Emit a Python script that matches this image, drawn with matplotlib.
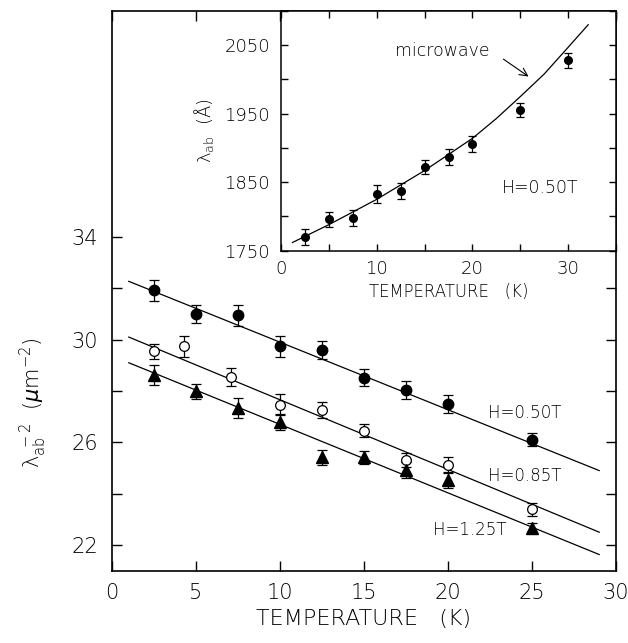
import matplotlib
matplotlib.use("Agg")
import matplotlib.pyplot as plt

# ---- main panel data ----
T50 = [2.5, 5, 7.5, 10, 12.5, 15, 17.5, 20, 25]
L50 = [31.92, 31.01, 30.95, 29.74, 29.60, 28.51, 28.05, 27.50, 26.11]
E50 = [0.42, 0.35, 0.40, 0.42, 0.36, 0.33, 0.35, 0.35, 0.27]

T85 = [2.5, 4.3, 7.1, 10, 12.5, 15, 17.5, 20, 25]
L85 = [29.55, 29.74, 28.54, 27.47, 27.27, 26.46, 25.31, 25.12, 23.40]
E85 = [0.29, 0.42, 0.36, 0.40, 0.31, 0.27, 0.26, 0.29, 0.25]

T125 = [2.5, 5, 7.5, 10, 12.5, 15, 17.5, 20, 25]
L125 = [28.64, 27.98, 27.33, 26.78, 25.42, 25.42, 24.92, 24.53, 22.65]
E125 = [0.39, 0.31, 0.39, 0.31, 0.29, 0.26, 0.32, 0.29, 0.19]

fit_T = [1.0, 29.0]
fit50 = [32.27, 24.90]
fit85 = [30.10, 22.50]
fit125 = [29.10, 21.63]

labels_main = ["H=0.50T", "H=0.85T", "H=1.25T"]

# ---- inset data ----
Tin = [2.5, 5, 7.5, 10, 12.5, 15, 17.5, 20, 25, 30]
Lin = [1770, 1796, 1798, 1833, 1837, 1872, 1887, 1906, 1955, 2028]
Ein = [12, 11, 12, 13, 12, 10, 12, 12, 10, 11]

Tmw = [1.2, 5, 10, 15, 20, 22.5, 25, 27.5, 30, 32.1]
Lmw = [1762, 1788, 1825, 1867, 1914, 1943, 1975, 2008, 2047, 2080]

plt.rcParams['font.family'] = ['DejaVu Sans']
plt.rcParams['font.weight'] = 'light'
plt.rcParams['axes.labelweight'] = 'light'
plt.rcParams['mathtext.fontset'] = 'dejavusans'

fig = plt.figure(figsize=(6.28, 6.43), dpi=100)

# main axes
ax = fig.add_axes([112/628, 1-570.7/643, (616-112)/628, (570.7-11)/643])
ax.set_xlim(0, 30)
ax.set_ylim(21, 42.8)

eb = dict(ecolor='black', elinewidth=0.9, capsize=3.8, capthick=0.9, linestyle='none')
ax.errorbar(T50, L50, yerr=E50, marker='o', ms=7.5, mfc='black', mec='black', **eb, zorder=3)
ax.errorbar(T85, L85, yerr=E85, marker='o', ms=7, mfc='white', mec='black', mew=0.9, **eb, zorder=3)
ax.errorbar(T125, L125, yerr=E125, marker='^', ms=8, mfc='black', mec='black', **eb, zorder=3)
for f in (fit50, fit85, fit125):
    ax.plot(fit_T, f, color='black', lw=0.9, zorder=2)

ax.text(22.4, 27.13, labels_main[0], fontsize=12, ha='left', va='center')
ax.text(22.4, 24.67, labels_main[1], fontsize=12, ha='left', va='center')
ax.text(19.1, 22.57, labels_main[2], fontsize=12, ha='left', va='center')

ax.set_xticks(range(0, 31, 5))
yt = list(range(22, 35, 2))
ax.set_yticks(yt)
ax.set_yticklabels([str(v) if v % 4 == 2 else '' for v in yt])
ax.tick_params(direction='in', length=7, width=1, top=True, right=True,
               labelsize=15)
ax.tick_params(axis='x', pad=9)
ax.tick_params(axis='y', pad=10)
for s in ax.spines.values():
    s.set_linewidth(1.2)

ax.set_xlabel('TEMPERATURE   (K)', fontsize=16, labelpad=4)
fig.text(33/628, 1-403/643, r'λ$_{\rm ab}^{\ -2}$  ($\mu$m$^{-2}$)', rotation=90,
         ha='center', va='center', fontsize=15)

# inset axes
axi = fig.add_axes([281/628, 1-250.7/643, (616-281)/628, (250.7-11)/643])
axi.set_facecolor('white')
axi.set_xlim(0, 35)
axi.set_ylim(1750, 2100)
axi.errorbar(Tin, Lin, yerr=Ein, marker='o', ms=5.5, mfc='black', mec='black',
             ecolor='black', elinewidth=0.9, capsize=3, capthick=0.9, linestyle='none', zorder=3)
axi.plot(Tmw, Lmw, color='black', lw=0.9)
axi.annotate('', xy=(26.1, 2002), xytext=(23.0, 2032),
             arrowprops=dict(arrowstyle='->', lw=0.8, color='black', mutation_scale=14))
axi.text(16.9, 2042, 'microwave', fontsize=12.5, ha='center', va='center')
axi.text(23.1, 1841, 'H=0.50T', fontsize=12.5, ha='left', va='center')

xt = list(range(0, 36, 5))
axi.set_xticks(xt)
axi.set_xticklabels([str(v) if v % 10 == 0 else '' for v in xt])
yti = list(range(1750, 2101, 50))
axi.set_yticks(yti)
axi.set_yticklabels([str(v) if v % 100 == 50 else '' for v in yti])
axi.tick_params(direction='in', length=5, width=1, top=True, right=True, labelsize=13)
axi.tick_params(axis='x', pad=7)
axi.tick_params(axis='y', pad=8)
for s in axi.spines.values():
    s.set_linewidth(1.1)
axi.set_xlabel('TEMPERATURE   (K)', fontsize=12, labelpad=3)
axi.set_ylabel(r'λ$_{\rm ab}$  (Å)', fontsize=13, labelpad=6)

fig.savefig('out.png', dpi=100)
